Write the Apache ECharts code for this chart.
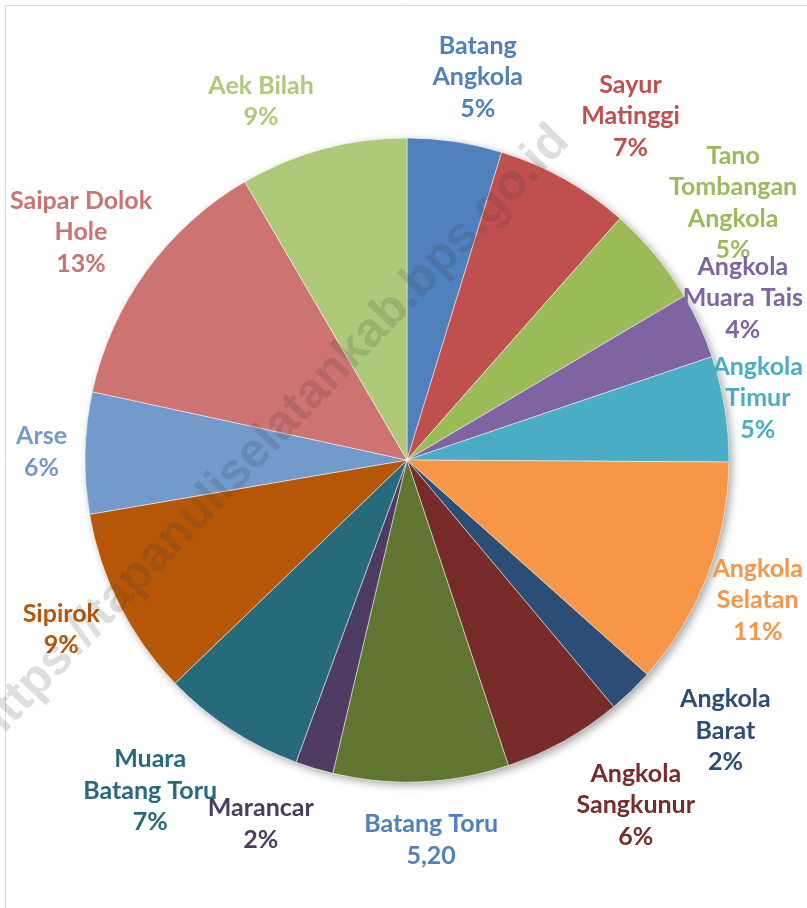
<!DOCTYPE html>
<html>
<head>
<meta charset="utf-8">
<script src="https://cdn.jsdelivr.net/npm/echarts@6/dist/echarts.min.js"></script>
<style>
  html, body { margin: 0; padding: 0; background: #fff; }
  #pieChart { width: 807px; height: 908px; }
</style>
</head>
<body>
<div id="pieChart"></div>
<script>
"use strict";

// kecamatan, clockwise from 12 o'clock
var districts = ["Batang Angkola", "Sayur Matinggi", "Tano Tombangan Angkola", "Angkola Muara Tais",
    "Angkola Timur", "Angkola Selatan", "Angkola Barat", "Angkola Sangkunur", "Batang Toru",
    "Marancar", "Muara Batang Toru", "Sipirok", "Arse", "Saipar Dolok Hole", "Aek Bilah"];
var shares = [4.75, 6.75, 5.0, 3.3, 5.3, 11.5, 2.3, 6.0, 8.8, 1.9, 7.2, 9.5, 6.1, 13.2, 8.4];
var shareLabels = ["5%", "7%", "5%", "4%", "5%", "11%", "2%", "6%", "5,20", "2%", "7%", "9%", "6%", "13%", "9%"];
// how the names wrap in the labels
var labelNames = ["Batang\nAngkola", "Sayur\nMatinggi", "Tano\nTombangan\nAngkola", "Angkola\nMuara Tais",
    "Angkola\nTimur", "Angkola\nSelatan", "Angkola\nBarat", "Angkola\nSangkunur", "Batang Toru",
    "Marancar", "Muara\nBatang Toru", "Sipirok", "Arse", "Saipar Dolok\nHole", "Aek Bilah"];

var sliceColors = ["#4F81BD", "#C0504D", "#9BBB59", "#8064A2", "#4BACC6", "#F79646", "#2C4D75", "#772C2A",
    "#5F7530", "#4D3B62", "#276A7C", "#B65708", "#729ACA", "#CD7371", "#AFC97A"];
var labelColors = sliceColors.slice();
labelColors[8] = "#4F81BD";

var CX = 407, CY = 460, R = 322, GAP = 18;
// excel moved these a bit by hand
var labelNudge = {"Angkola Barat": [32, -12], "Aek Bilah": [-16, 0], "Sayur Matinggi": [8, -6]};

var total = shares.reduce(function (a, b) { return a + b; }, 0);
var midAngles = [];
(function () {
    var acc = 0;
    for (var i = 0; i < shares.length; i++) {
        midAngles.push((acc + shares[i] / 2) / total * Math.PI * 2);
        acc += shares[i];
    }
})();

var pieData = districts.map(function (name, i) {
    return {
        name: name,
        value: shares[i],
        itemStyle: {color: sliceColors[i]},
        label: {color: labelColors[i]}
    };
});

/**
 * put each label just outside the rim, roughly like excel does
 */
function placeLabel(params) {
    if (params.seriesIndex !== 1) return {};
    var i = params.dataIndex;
    var a = midAngles[i];
    var w = params.labelRect.width, h = params.labelRect.height;
    var ux = Math.sin(a), uy = -Math.cos(a);
    var gap = GAP + 9 * Math.max(0, uy);
    var px = CX + ux * (R + gap), py = CY + uy * (R + gap);
    var fx = Math.max(-1, Math.min(1, ux * 3));
    var x = px + fx * w / 2;
    var y = py + uy * h / 2;
    var nudge = labelNudge[districts[i]];
    if (nudge) { x += nudge[0]; y += nudge[1]; }
    x = Math.min(Math.max(x, 10 + w / 2), 803 - w / 2);
    return {x: x, y: y, align: "center", verticalAlign: "middle"};
}

var option = {
    backgroundColor: "#fff",
    animation: false,
    graphic: [
        {type: "rect", z: 0, shape: {x: 5.5, y: 5.5, width: 900, height: 1000},
            style: {fill: "none", stroke: "#d9d9d9", lineWidth: 1}},
        {type: "text", z: 100, x: 272, y: 435, rotation: 46.2 * Math.PI / 180,
            style: {text: "https://tapanuliselatankab.bps.go.id", fill: "rgba(60,60,60,0.17)",
                font: "bold 49px 'Liberation Sans', Arial, sans-serif", align: "center", verticalAlign: "middle"}}
    ],
    series: [
        {
            // shadow disc under the pie
            type: "pie", silent: true, center: [CX, CY], radius: R, z: 1,
            label: {show: false}, labelLine: {show: false},
            itemStyle: {color: "#fff", shadowBlur: 9, shadowColor: "rgba(0,0,0,0.35)", shadowOffsetX: 3, shadowOffsetY: 3},
            data: [total]
        },
        {
            type: "pie", center: [CX, CY], radius: R, z: 2,
            startAngle: 90, clockwise: true, avoidLabelOverlap: false,
            itemStyle: {borderColor: "rgba(255,255,255,0.6)", borderWidth: 0.8},
            label: {
                show: true, position: "outside", align: "center",
                fontFamily: "Lato, 'Open Sans', sans-serif", fontWeight: "bold", fontSize: 25, lineHeight: 31.5,
                formatter: function (p) { return labelNames[p.dataIndex] + "\n" + shareLabels[p.dataIndex]; }
            },
            labelLine: {show: false},
            labelLayout: placeLabel,
            data: pieData
        }
    ]
};

var chart = echarts.init(document.getElementById("pieChart"), null, {renderer: "canvas"});
chart.setOption(option);
</script>
</body>
</html>
